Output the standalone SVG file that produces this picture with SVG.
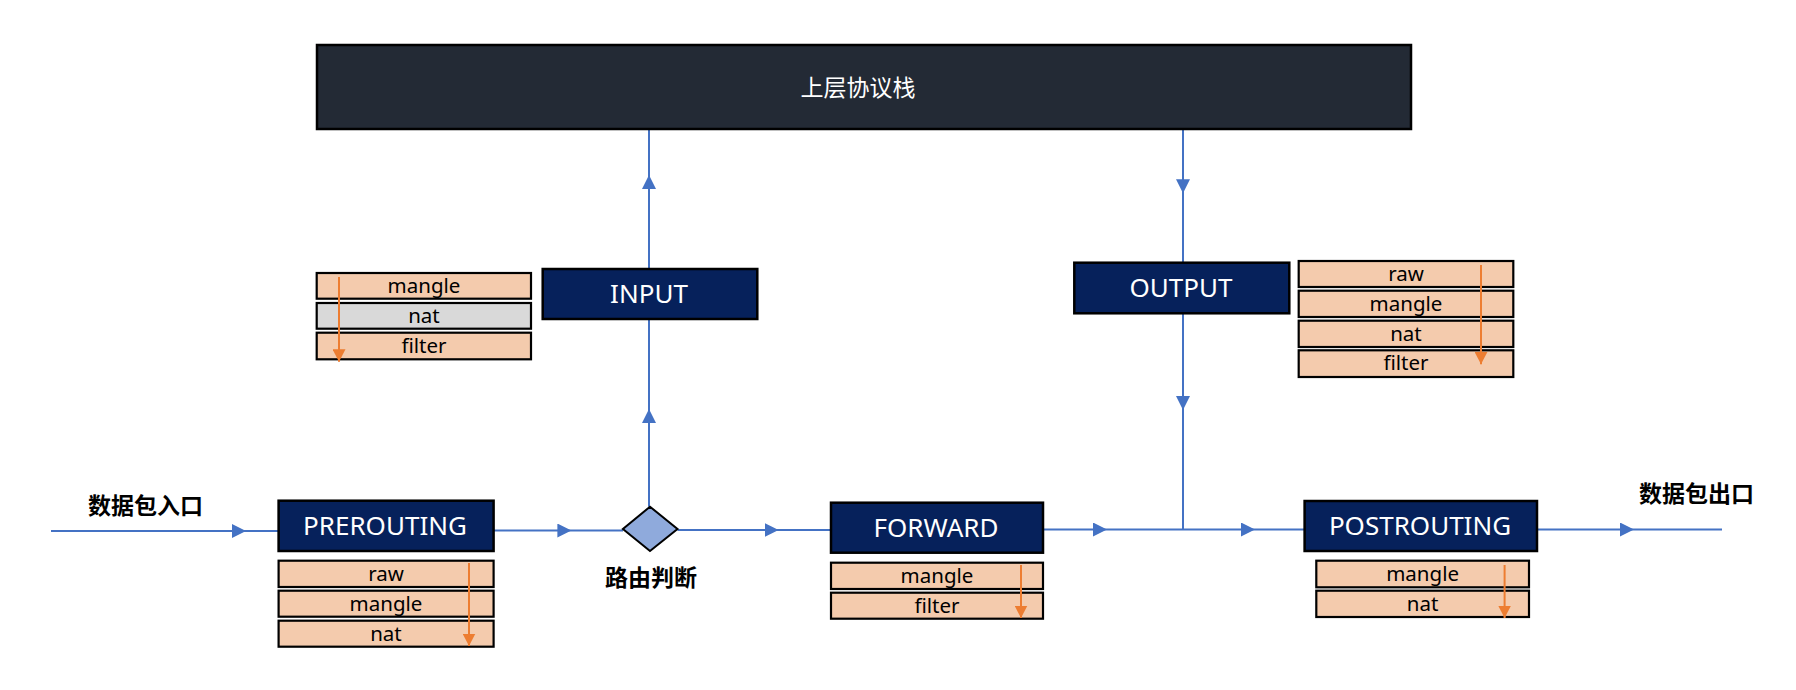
<svg xmlns="http://www.w3.org/2000/svg" width="1796" height="690" viewBox="0 0 1796 690">
<style>
.chain{fill:#06215b;stroke:#000;stroke-width:2.5}
.chain-t{fill:#fff;font-family:"Noto Sans","Liberation Sans",sans-serif;font-size:26px;text-anchor:middle}
.tbl{fill:#f4cbad;stroke:#000;stroke-width:2.2}
.tbl-g{fill:#d9d9d9;stroke:#000;stroke-width:2.2}
.tbl-t{fill:#000;font-family:"Noto Sans","Liberation Sans",sans-serif;font-size:20.5px;text-anchor:middle}
.lbl{fill:#000;font-family:"Noto Sans CJK SC","Noto Sans",sans-serif;font-size:23px;font-weight:bold}
.flow{fill:none;stroke:#4472c4;stroke-width:2;marker-mid:url(#blue)}
.order{fill:none;stroke:#ed7d31;stroke-width:2;marker-end:url(#orange)}
</style>
<defs>
<marker id="blue" markerUnits="userSpaceOnUse" markerWidth="15" markerHeight="15" refX="14" refY="7" orient="auto" viewBox="0 0 15 15">
<path d="M0,0 L14,7 L0,14 z" fill="#4472c4"/>
</marker>
<marker id="orange" markerUnits="userSpaceOnUse" markerWidth="13" markerHeight="13" refX="12.5" refY="6.5" orient="auto" viewBox="0 0 13 13">
<path d="M0,0 L12.5,6.5 L0,13 z" fill="#ed7d31"/>
</marker>
</defs>
<rect width="1796" height="690" fill="#fff"/>

<g id="connectors">
<path class="flow" d="M51,531 L246,531 L278.6,531"/>
<path class="flow" d="M493.6,530.5 L571.4,530.5 L623,530.5"/>
<path class="flow" d="M677.5,530 L778.6,530 L831,530"/>
<path class="flow" d="M1043,529.5 L1107,529.5 L1184,529.5"/>
<path class="flow" d="M1184,529.5 L1255,529.5 L1304.6,529.5"/>
<path class="flow" d="M1537,529.5 L1634,529.5 L1722,529.5"/>
<path class="flow" d="M649,506.7 L649,409 L649,319"/>
<path class="flow" d="M649,269 L649,175 L649,130"/>
<path class="flow" d="M1183,130 L1183,193.3 L1183,262.7"/>
<path class="flow" d="M1183,313.3 L1183,410 L1183,529.5"/>
</g>

<g id="stack">
<rect x="317" y="45" width="1094" height="84" fill="#232a35" stroke="#000" stroke-width="2.5"/>
<text x="858" y="96" fill="#fff" font-family="'Noto Sans CJK SC','Noto Sans',sans-serif" font-size="23" text-anchor="middle">上层协议栈</text>
</g>

<g id="entry-label">
<text class="lbl" x="88" y="514">数据包入口</text>
</g>
<g id="exit-label">
<text class="lbl" x="1639" y="502">数据包出口</text>
</g>

<g id="prerouting">
<rect class="chain" x="278.6" y="500.7" width="215" height="50.3"/>
<text class="chain-t" x="385" y="535">PREROUTING</text>
</g>
<g id="prerouting-tables">
<rect class="tbl" x="278.6" y="560.7" width="215" height="26.3"/>
<text class="tbl-t" x="386" y="581">raw</text>
<rect class="tbl" x="278.6" y="590.7" width="215" height="26"/>
<text class="tbl-t" x="386" y="611">mangle</text>
<rect class="tbl" x="278.6" y="620.7" width="215" height="26"/>
<text class="tbl-t" x="386" y="641">nat</text>
<path class="order" d="M469,563 L469,646"/>
</g>

<g id="routing">
<path d="M650,506.7 L677.5,529 L650,551 L622.9,529 z" fill="#8faadc" stroke="#000" stroke-width="2"/>
<text class="lbl" x="651" y="586" text-anchor="middle">路由判断</text>
</g>

<g id="forward">
<rect class="chain" x="831" y="502.7" width="212" height="50"/>
<text class="chain-t" x="936" y="537">FORWARD</text>
</g>
<g id="forward-tables">
<rect class="tbl" x="831" y="562.7" width="212" height="26.3"/>
<text class="tbl-t" x="937" y="583">mangle</text>
<rect class="tbl" x="831" y="592.7" width="212" height="26"/>
<text class="tbl-t" x="937" y="613">filter</text>
<path class="order" d="M1021,565 L1021,618"/>
</g>

<g id="postrouting">
<rect class="chain" x="1304.6" y="501" width="232.4" height="50"/>
<text class="chain-t" x="1420" y="535">POSTROUTING</text>
</g>
<g id="postrouting-tables">
<rect class="tbl" x="1316.3" y="560.7" width="212.7" height="26.6"/>
<text class="tbl-t" x="1422.6" y="581">mangle</text>
<rect class="tbl" x="1316.3" y="590.7" width="212.7" height="26.3"/>
<text class="tbl-t" x="1422.6" y="611">nat</text>
<path class="order" d="M1504.6,565 L1504.6,618"/>
</g>

<g id="input">
<rect class="chain" x="542.7" y="269" width="214.6" height="50"/>
<text class="chain-t" x="649" y="303">INPUT</text>
</g>
<g id="input-tables">
<rect class="tbl" x="316.7" y="273" width="214.3" height="25.7"/>
<text class="tbl-t" x="424" y="293">mangle</text>
<rect class="tbl-g" x="316.7" y="303" width="214.3" height="25.7"/>
<text class="tbl-t" x="424" y="323">nat</text>
<rect class="tbl" x="316.7" y="332.7" width="214.3" height="26.6"/>
<text class="tbl-t" x="424" y="353">filter</text>
<path class="order" d="M339,277 L339,361.7"/>
</g>

<g id="output">
<rect class="chain" x="1074.3" y="262.7" width="215" height="50.6"/>
<text class="chain-t" x="1181" y="297">OUTPUT</text>
</g>
<g id="output-tables">
<rect class="tbl" x="1298.7" y="261" width="214.6" height="26"/>
<text class="tbl-t" x="1406" y="281">raw</text>
<rect class="tbl" x="1298.7" y="290.7" width="214.6" height="26.3"/>
<text class="tbl-t" x="1406" y="311">mangle</text>
<rect class="tbl" x="1298.7" y="320.7" width="214.6" height="26.3"/>
<text class="tbl-t" x="1406" y="341">nat</text>
<rect class="tbl" x="1298.7" y="350.3" width="214.6" height="26.7"/>
<text class="tbl-t" x="1406" y="370">filter</text>
<path class="order" d="M1481,265 L1481,364.3"/>
</g>
</svg>
